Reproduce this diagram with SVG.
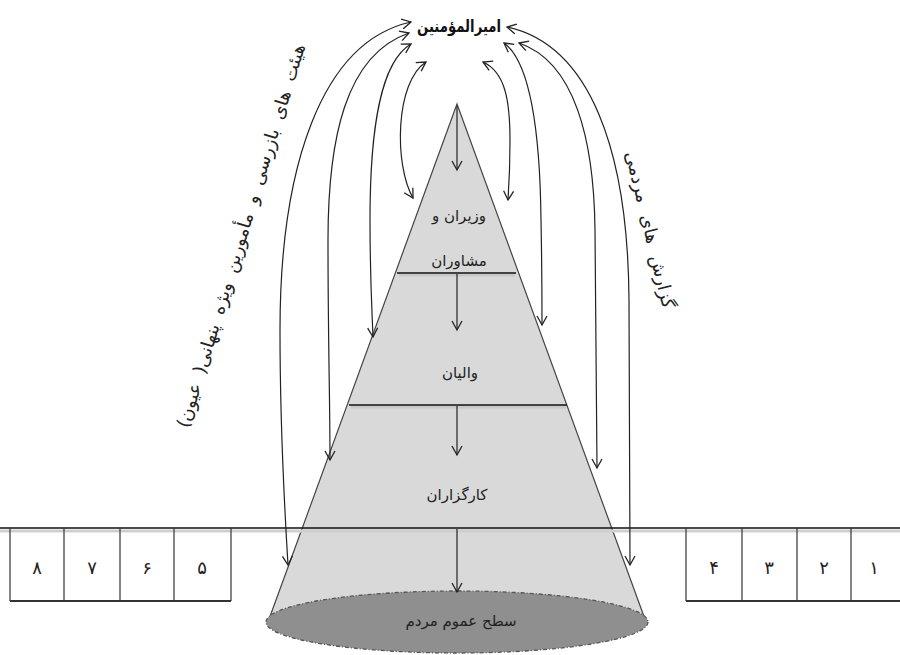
<svg xmlns="http://www.w3.org/2000/svg" width="900" height="655" viewBox="0 0 900 655">
  <style>
    .lbl { font-family: "DejaVu Sans", "Noto Sans", sans-serif; font-size: 15px; fill: #222; text-anchor: middle; direction: rtl; }
    .num { font-family: "DejaVu Sans", "Noto Sans", sans-serif; font-size: 18px; fill: #222; text-anchor: middle; }
    .side { font-family: "DejaVu Sans", "Noto Sans", sans-serif; font-size: 18px; fill: #222; text-anchor: middle; direction: rtl; }
    .title { font-family: "DejaVu Sans", "Noto Sans", sans-serif; font-size: 17px; font-weight: bold; fill: #111; text-anchor: middle; direction: rtl; }
    .cell { fill: none; stroke: #333; stroke-width: 1.2; }
    .curve { fill: none; stroke: #222; stroke-width: 1.2; marker-start: url(#v); marker-end: url(#v); }
    .down { fill: none; stroke: #222; stroke-width: 1.2; marker-end: url(#v); }
    .divider { stroke: #111; stroke-width: 1.6; }
    .shade { stroke: #bdbdbd; stroke-width: 3; opacity: 0.6; }
  </style>
  <defs>
    <marker id="v" viewBox="-11 -7 13 14" refX="0" refY="0" markerWidth="13" markerHeight="14" markerUnits="userSpaceOnUse" orient="auto-start-reverse">
      <path d="M-9,-5 L0,0 L-9,5" fill="none" stroke="#222" stroke-width="1.3"/>
    </marker>
  </defs>

  <rect width="900" height="655" fill="#ffffff"/>

  <!-- pyramid body and base -->
  <g id="pyramid">
    <polygon points="457,104 268,622 646,622" fill="#d9d9d9" stroke="#444" stroke-width="1.2"/>
    <ellipse cx="457" cy="622" rx="191" ry="31" fill="#8f8f8f" stroke="#555" stroke-width="1.3" stroke-dasharray="4 2 1 2"/>
    <line class="shade" x1="399" y1="275" x2="515" y2="275"/>
    <line class="divider" x1="397" y1="273" x2="516" y2="273"/>
    <line class="shade" x1="351" y1="407" x2="566" y2="407"/>
    <line class="divider" x1="349" y1="405" x2="567" y2="405"/>
  </g>

  <!-- ground line and numbered cells -->
  <g id="ground">
    <line x1="0" y1="531" x2="900" y2="531" stroke="#cfcfcf" stroke-width="3"/>
    <line x1="0" y1="528" x2="900" y2="528" stroke="#111" stroke-width="1.5"/>
  </g>
  <g id="cells-left">
    <line class="cell" x1="10" y1="528" x2="10" y2="601"/>
    <line class="cell" x1="64" y1="528" x2="64" y2="601"/>
    <line class="cell" x1="120" y1="528" x2="120" y2="601"/>
    <line class="cell" x1="174" y1="528" x2="174" y2="601"/>
    <line class="cell" x1="231" y1="528" x2="231" y2="601"/>
    <line x1="10" y1="601" x2="231" y2="601" stroke="#333" stroke-width="2"/>
    <text class="num" x="37" y="574">۸</text>
    <text class="num" x="92" y="574">۷</text>
    <text class="num" x="147" y="574">۶</text>
    <text class="num" x="202" y="574">۵</text>
  </g>
  <g id="cells-right">
    <line class="cell" x1="686" y1="528" x2="686" y2="601"/>
    <line class="cell" x1="742" y1="528" x2="742" y2="601"/>
    <line class="cell" x1="797" y1="528" x2="797" y2="601"/>
    <line class="cell" x1="851" y1="528" x2="851" y2="601"/>
    <line x1="686" y1="601" x2="900" y2="601" stroke="#333" stroke-width="2"/>
    <text class="num" x="714" y="574">۴</text>
    <text class="num" x="769" y="574">۳</text>
    <text class="num" x="824" y="574">۲</text>
    <text class="num" x="874" y="574">۱</text>
  </g>

  <!-- connectors -->
  <g id="connectors">
    <!-- chain of command down through the pyramid -->
    <line class="down" x1="457" y1="106" x2="457" y2="170"/>
    <line class="down" x1="457" y1="274" x2="457" y2="330"/>
    <line class="down" x1="457" y1="406" x2="457" y2="455"/>
    <line class="down" x1="457" y1="529" x2="457" y2="592"/>
    <!-- inspection links, left side -->
    <path class="curve" d="M411,22 C320,42 280,170 280,330 C280,430 284,500 288,565"/>
    <path class="curve" d="M409,33 C345,55 328,140 328,240 C328,340 330,400 330,460"/>
    <path class="curve" d="M411,44 C380,62 370,130 370,220 C370,280 372,310 373,337"/>
    <path class="curve" d="M426,62 C395,82 394,165 413,198"/>
    <!-- public reports, right side -->
    <path class="curve" d="M507,27 C590,45 628,150 629,300 C630,420 630,500 630,565"/>
    <path class="curve" d="M519,43 C575,62 594,140 595,230 C596,330 597,400 597,468"/>
    <path class="curve" d="M504,43 C530,62 540,130 541,220 C542,270 542,300 542,325"/>
    <path class="curve" d="M483,62 C505,72 510,100 510,140 C510,165 509,185 508,200"/>
  </g>

  <!-- nodes -->
  <g id="amir">
    <text class="title" transform="translate(459,32) scale(0.78,1)">امیرالمؤمنین</text>
  </g>
  <g id="vaziran">
    <text class="lbl" x="459" y="221">وزیران و</text>
    <text class="lbl" x="459" y="266">مشاوران</text>
  </g>
  <g id="valiyan">
    <text class="lbl" x="460" y="378">والیان</text>
  </g>
  <g id="kargozaran">
    <text class="lbl" x="457" y="500">کارگزاران</text>
  </g>
  <g id="mardom">
    <text class="lbl" x="461" y="626">سطح عموم مردم</text>
  </g>
  <g id="label-inspection">
    <text class="side" transform="translate(242,236) rotate(-73)" y="5" word-spacing="5">هیئت های بازرسی و مأمورین ویژه پنهانی( عیون)</text>
  </g>
  <g id="label-reports">
    <text class="side" transform="translate(649,230) rotate(76.5)" y="5" word-spacing="7">گزارش های مردمی</text>
  </g>
</svg>
